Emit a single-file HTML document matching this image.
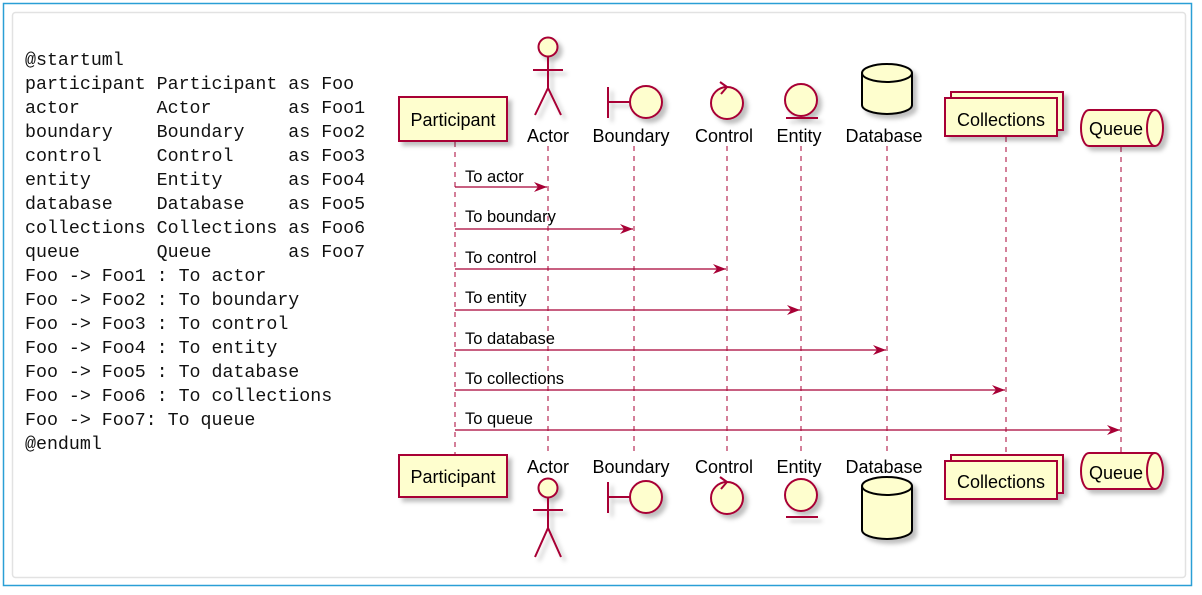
<!DOCTYPE html>
<html><head><meta charset="utf-8"><style>
html,body{margin:0;padding:0;background:#fff;width:1202px;height:595px;overflow:hidden}
svg{display:block}
.code{font-family:"Liberation Mono","DejaVu Sans Mono",monospace;font-size:18.3px;fill:#111}
.lbl{font-family:"Liberation Sans",sans-serif;font-size:18px;fill:#000}
.msg{font-family:"Liberation Sans",sans-serif;font-size:16.5px;fill:#000}
</style></head><body>
<svg width="1202" height="595" xmlns="http://www.w3.org/2000/svg">
<defs>
<filter id="sh" x="-20%" y="-20%" width="150%" height="150%"><feDropShadow dx="4" dy="4" stdDeviation="2" flood-color="#000" flood-opacity="0.25"/></filter>
<marker id="ah" markerWidth="14" markerHeight="10" refX="13" refY="5" orient="auto" markerUnits="userSpaceOnUse"><path d="M0,0 L13,5 L0,10 L4,5 Z" fill="#A80036"/></marker>
</defs>
<rect x="3.5" y="3.5" width="1188" height="582" fill="#fff" stroke="#2a9fd6" stroke-width="1.5"/>
<rect x="12.5" y="12.5" width="1173" height="565" rx="3" fill="#fff" stroke="#e2e2e2" stroke-width="1.5"/>
<g class="code">
<text x="25" y="65">@startuml</text>
<text x="25" y="89" xml:space="preserve">participant Participant as Foo</text>
<text x="25" y="113" xml:space="preserve">actor       Actor       as Foo1</text>
<text x="25" y="137" xml:space="preserve">boundary    Boundary    as Foo2</text>
<text x="25" y="161" xml:space="preserve">control     Control     as Foo3</text>
<text x="25" y="185" xml:space="preserve">entity      Entity      as Foo4</text>
<text x="25" y="209" xml:space="preserve">database    Database    as Foo5</text>
<text x="25" y="233" xml:space="preserve">collections Collections as Foo6</text>
<text x="25" y="257" xml:space="preserve">queue       Queue       as Foo7</text>
<text x="25" y="281">Foo -&gt; Foo1 : To actor</text>
<text x="25" y="305">Foo -&gt; Foo2 : To boundary</text>
<text x="25" y="329">Foo -&gt; Foo3 : To control</text>
<text x="25" y="353">Foo -&gt; Foo4 : To entity</text>
<text x="25" y="377">Foo -&gt; Foo5 : To database</text>
<text x="25" y="401">Foo -&gt; Foo6 : To collections</text>
<text x="25" y="425">Foo -&gt; Foo7: To queue</text>
<text x="25" y="449">@enduml</text>
</g>
<g stroke="#A80036" stroke-width="1" stroke-dasharray="5,5">
<line x1="455" y1="142" x2="455" y2="455"/><line x1="548" y1="146" x2="548" y2="456"/>
<line x1="634" y1="146" x2="634" y2="456"/><line x1="727" y1="146" x2="727" y2="456"/>
<line x1="801" y1="146" x2="801" y2="456"/><line x1="887" y1="146" x2="887" y2="456"/>
<line x1="1006" y1="137" x2="1006" y2="460"/><line x1="1121" y1="147" x2="1121" y2="452"/>
</g>
<g stroke="#A80036" stroke-width="1.2" fill="none" marker-end="url(#ah)">
<line x1="455" y1="187" x2="547" y2="187"/><line x1="455" y1="229" x2="633" y2="229"/>
<line x1="455" y1="269" x2="726" y2="269"/><line x1="455" y1="310" x2="800" y2="310"/>
<line x1="455" y1="350" x2="886" y2="350"/><line x1="455" y1="390" x2="1005" y2="390"/>
<line x1="455" y1="430" x2="1120" y2="430"/>
</g>
<g class="msg">
<text x="465" y="182">To actor</text><text x="465" y="222">To boundary</text>
<text x="465" y="263">To control</text><text x="465" y="303">To entity</text>
<text x="465" y="344">To database</text><text x="465" y="384">To collections</text>
<text x="465" y="424">To queue</text>
</g>
<g fill="#FEFECE" stroke="#A80036" stroke-width="2" filter="url(#sh)">
<rect x="399" y="97" width="108" height="44"/>
<circle cx="548" cy="47" r="9.5"/>
<path d="M548,57 V88 M533,70 H563 M535,115 L548,88 L561,115" fill="none"/>
<path d="M608,87 V118 M608,102 H630" fill="none"/>
<circle cx="646" cy="102" r="16"/>
<circle cx="727" cy="103" r="16"/>
<circle cx="801" cy="100" r="16"/>
<path d="M786,118 H818" fill="none"/>
<rect x="951" y="92" width="112" height="38"/>
<rect x="945" y="98" width="112" height="38"/>
<path d="M1089,110 H1155 A8,18 0 0 1 1155,146 H1089 A8,18 0 0 1 1089,110 Z"/>
<path d="M1155,110 A8,18 0 0 0 1155,146" fill="none"/>
<rect x="399" y="455" width="108" height="42"/>
<circle cx="548" cy="488" r="9.5"/>
<path d="M548,498 V528 M533,510 H563 M535,557 L548,528 L561,557" fill="none"/>
<path d="M608,482 V513 M608,497 H630" fill="none"/>
<circle cx="646" cy="497" r="16"/>
<circle cx="727" cy="498" r="16"/>
<circle cx="801" cy="495" r="16"/>
<path d="M786,517 H818" fill="none"/>
<rect x="951" y="455" width="112" height="38"/>
<rect x="945" y="461" width="112" height="38"/>
<path d="M1089,453 H1155 A8,18 0 0 1 1155,489 H1089 A8,18 0 0 1 1089,453 Z"/>
<path d="M1155,453 A8,18 0 0 0 1155,489" fill="none"/>
</g>
<g stroke="#A80036" stroke-width="2" fill="none">
<path d="M727,87 L720,82 M727,87 L721,94"/>
<path d="M727,482 L720,477 M727,482 L721,489"/>
</g>
<g fill="#FEFECE" stroke="#000" stroke-width="2" filter="url(#sh)">
<path d="M862,73 A25,9 0 0 1 912,73 V105 A25,9 0 0 1 862,105 Z"/>
<path d="M862,486 A25,9 0 0 1 912,486 V530 A25,9 0 0 1 862,530 Z"/>
</g>
<g stroke="#000" stroke-width="2" fill="none">
<path d="M862,73 A25,9 0 0 0 912,73"/>
<path d="M862,486 A25,9 0 0 0 912,486"/>
</g>
<g class="lbl" text-anchor="middle">
<text x="453" y="126">Participant</text><text x="548" y="142">Actor</text>
<text x="631" y="142">Boundary</text><text x="724" y="142">Control</text>
<text x="799" y="142">Entity</text><text x="884" y="142">Database</text>
<text x="1001" y="126">Collections</text><text x="1116" y="135">Queue</text>
<text x="453" y="483">Participant</text><text x="548" y="473">Actor</text>
<text x="631" y="473">Boundary</text><text x="724" y="473">Control</text>
<text x="799" y="473">Entity</text><text x="884" y="473">Database</text>
<text x="1001" y="488">Collections</text><text x="1116" y="479">Queue</text>
</g>
</svg>
</body></html>
